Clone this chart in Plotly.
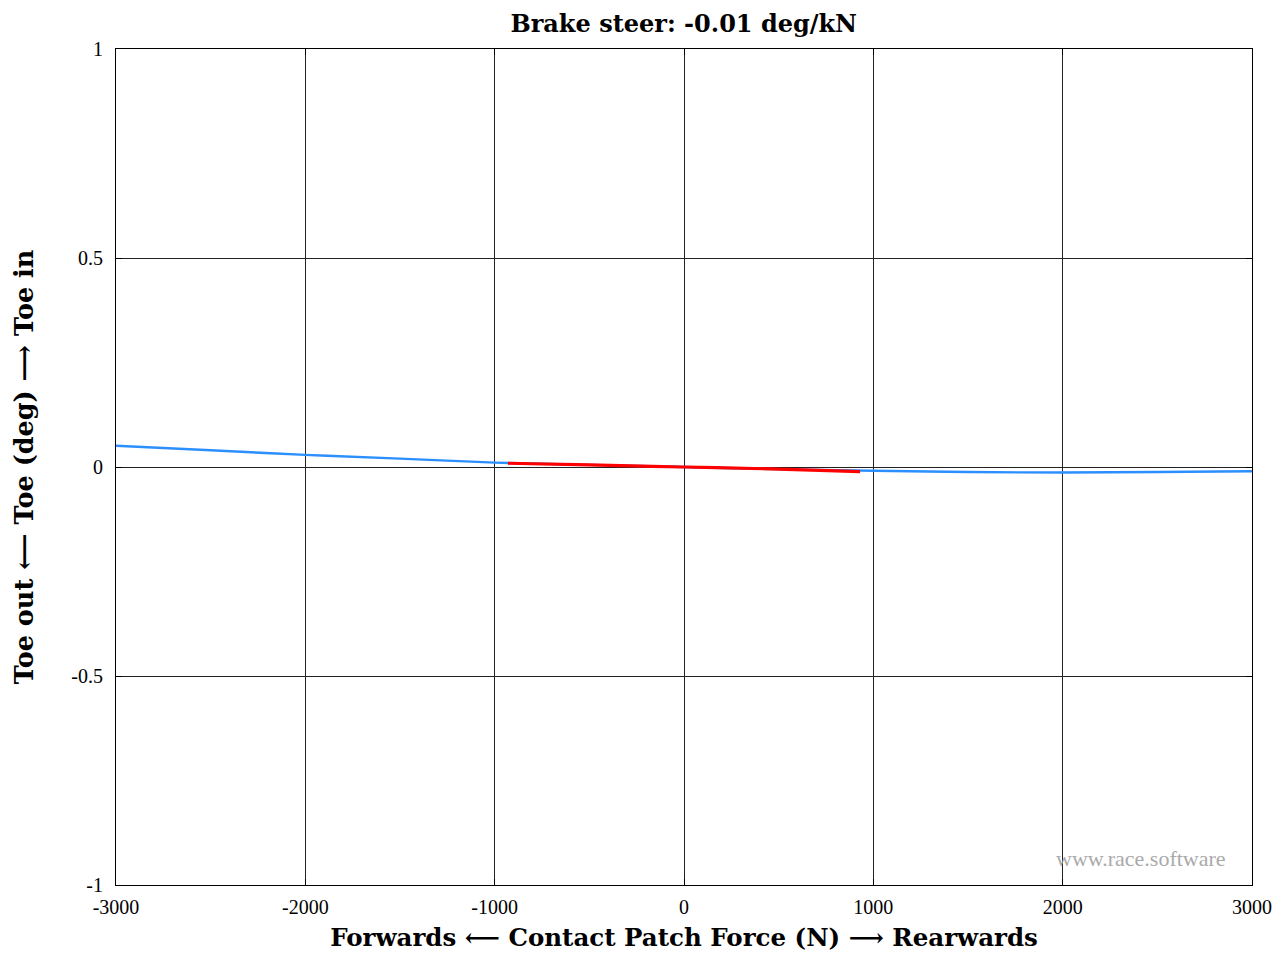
import plotly.graph_objects as go

# Toe change versus longitudinal contact patch force
force_full = [-3000, -2500, -2000, -1500, -1000, -500, 0, 500, 1000, 1500, 2000, 2500, 3000]
toe_full = [0.051, 0.040, 0.029, 0.020, 0.0105, 0.005, 0.0, -0.005, -0.009, -0.012, -0.013, -0.012, -0.010]

# Operating range used for the brake steer fit
force_range = [-930, -500, 0, 500, 930]
toe_range = [0.009, 0.005, 0.0, -0.005, -0.011]

x_ticks = [-3000, -2000, -1000, 0, 1000, 2000, 3000]
x_tick_text = ["-3000", "-2000", "-1000", "0", "1000", "2000", "3000"]
y_ticks = [-1, -0.5, 0, 0.5, 1]
y_tick_text = ["-1", "-0.5", "0", "0.5", "1"]

serif = "Liberation Serif, DejaVu Serif, serif"
wide_serif = "DejaVu Serif, Liberation Serif, serif"

fig = go.Figure()
fig.add_trace(go.Scatter(x=force_full, y=toe_full, mode="lines",
                         line=dict(color="#2b8fff", width=2.4, shape="spline"),
                         hoverinfo="skip", showlegend=False))
fig.add_trace(go.Scatter(x=force_range, y=toe_range, mode="lines",
                         line=dict(color="#ff0000", width=3.2, shape="spline"),
                         hoverinfo="skip", showlegend=False))

axis_common = dict(showline=True, linecolor="black", linewidth=1, mirror="ticks",
                   ticks="inside", ticklen=6, tickcolor="black", automargin=False,
                   showgrid=True, gridcolor="#222222", gridwidth=0.8,
                   zeroline=False, tickfont=dict(family=serif, size=20, color="black"))

fig.update_layout(
    width=1278, height=956,
    margin=dict(l=116, r=26, t=49, b=71),
    paper_bgcolor="white", plot_bgcolor="white",
    title=dict(text="<b>Brake steer: -0.01 deg/kN</b>", x=0.535, xanchor="center",
               y=0.975, yanchor="middle",
               font=dict(family=wide_serif, size=24, color="black")),
    xaxis=dict(range=[-3000, 3000], tickvals=x_ticks, ticktext=x_tick_text,
               ticklabelstandoff=4,
               title=dict(text="<b>Forwards ⟵ Contact Patch Force (N) ⟶ Rearwards</b>",
                          font=dict(family=wide_serif, size=24.5, color="black"), standoff=11),
               **axis_common),
    yaxis=dict(range=[-1, 1], tickvals=y_ticks, ticktext=y_tick_text,
               ticklabelstandoff=8,
               title=dict(text="<b>Toe out ⟵ Toe (deg) ⟶ Toe in</b>",
                          font=dict(family=wide_serif, size=25.5, color="black"), standoff=30),
               **axis_common),
)

fig.add_annotation(text="www.race.software", xref="paper", yref="paper",
                   x=0.979, y=0.032, xanchor="right", yanchor="middle", showarrow=False,
                   font=dict(family=serif, size=22, color="#aaaaaa"))

fig.write_html("out.html")
